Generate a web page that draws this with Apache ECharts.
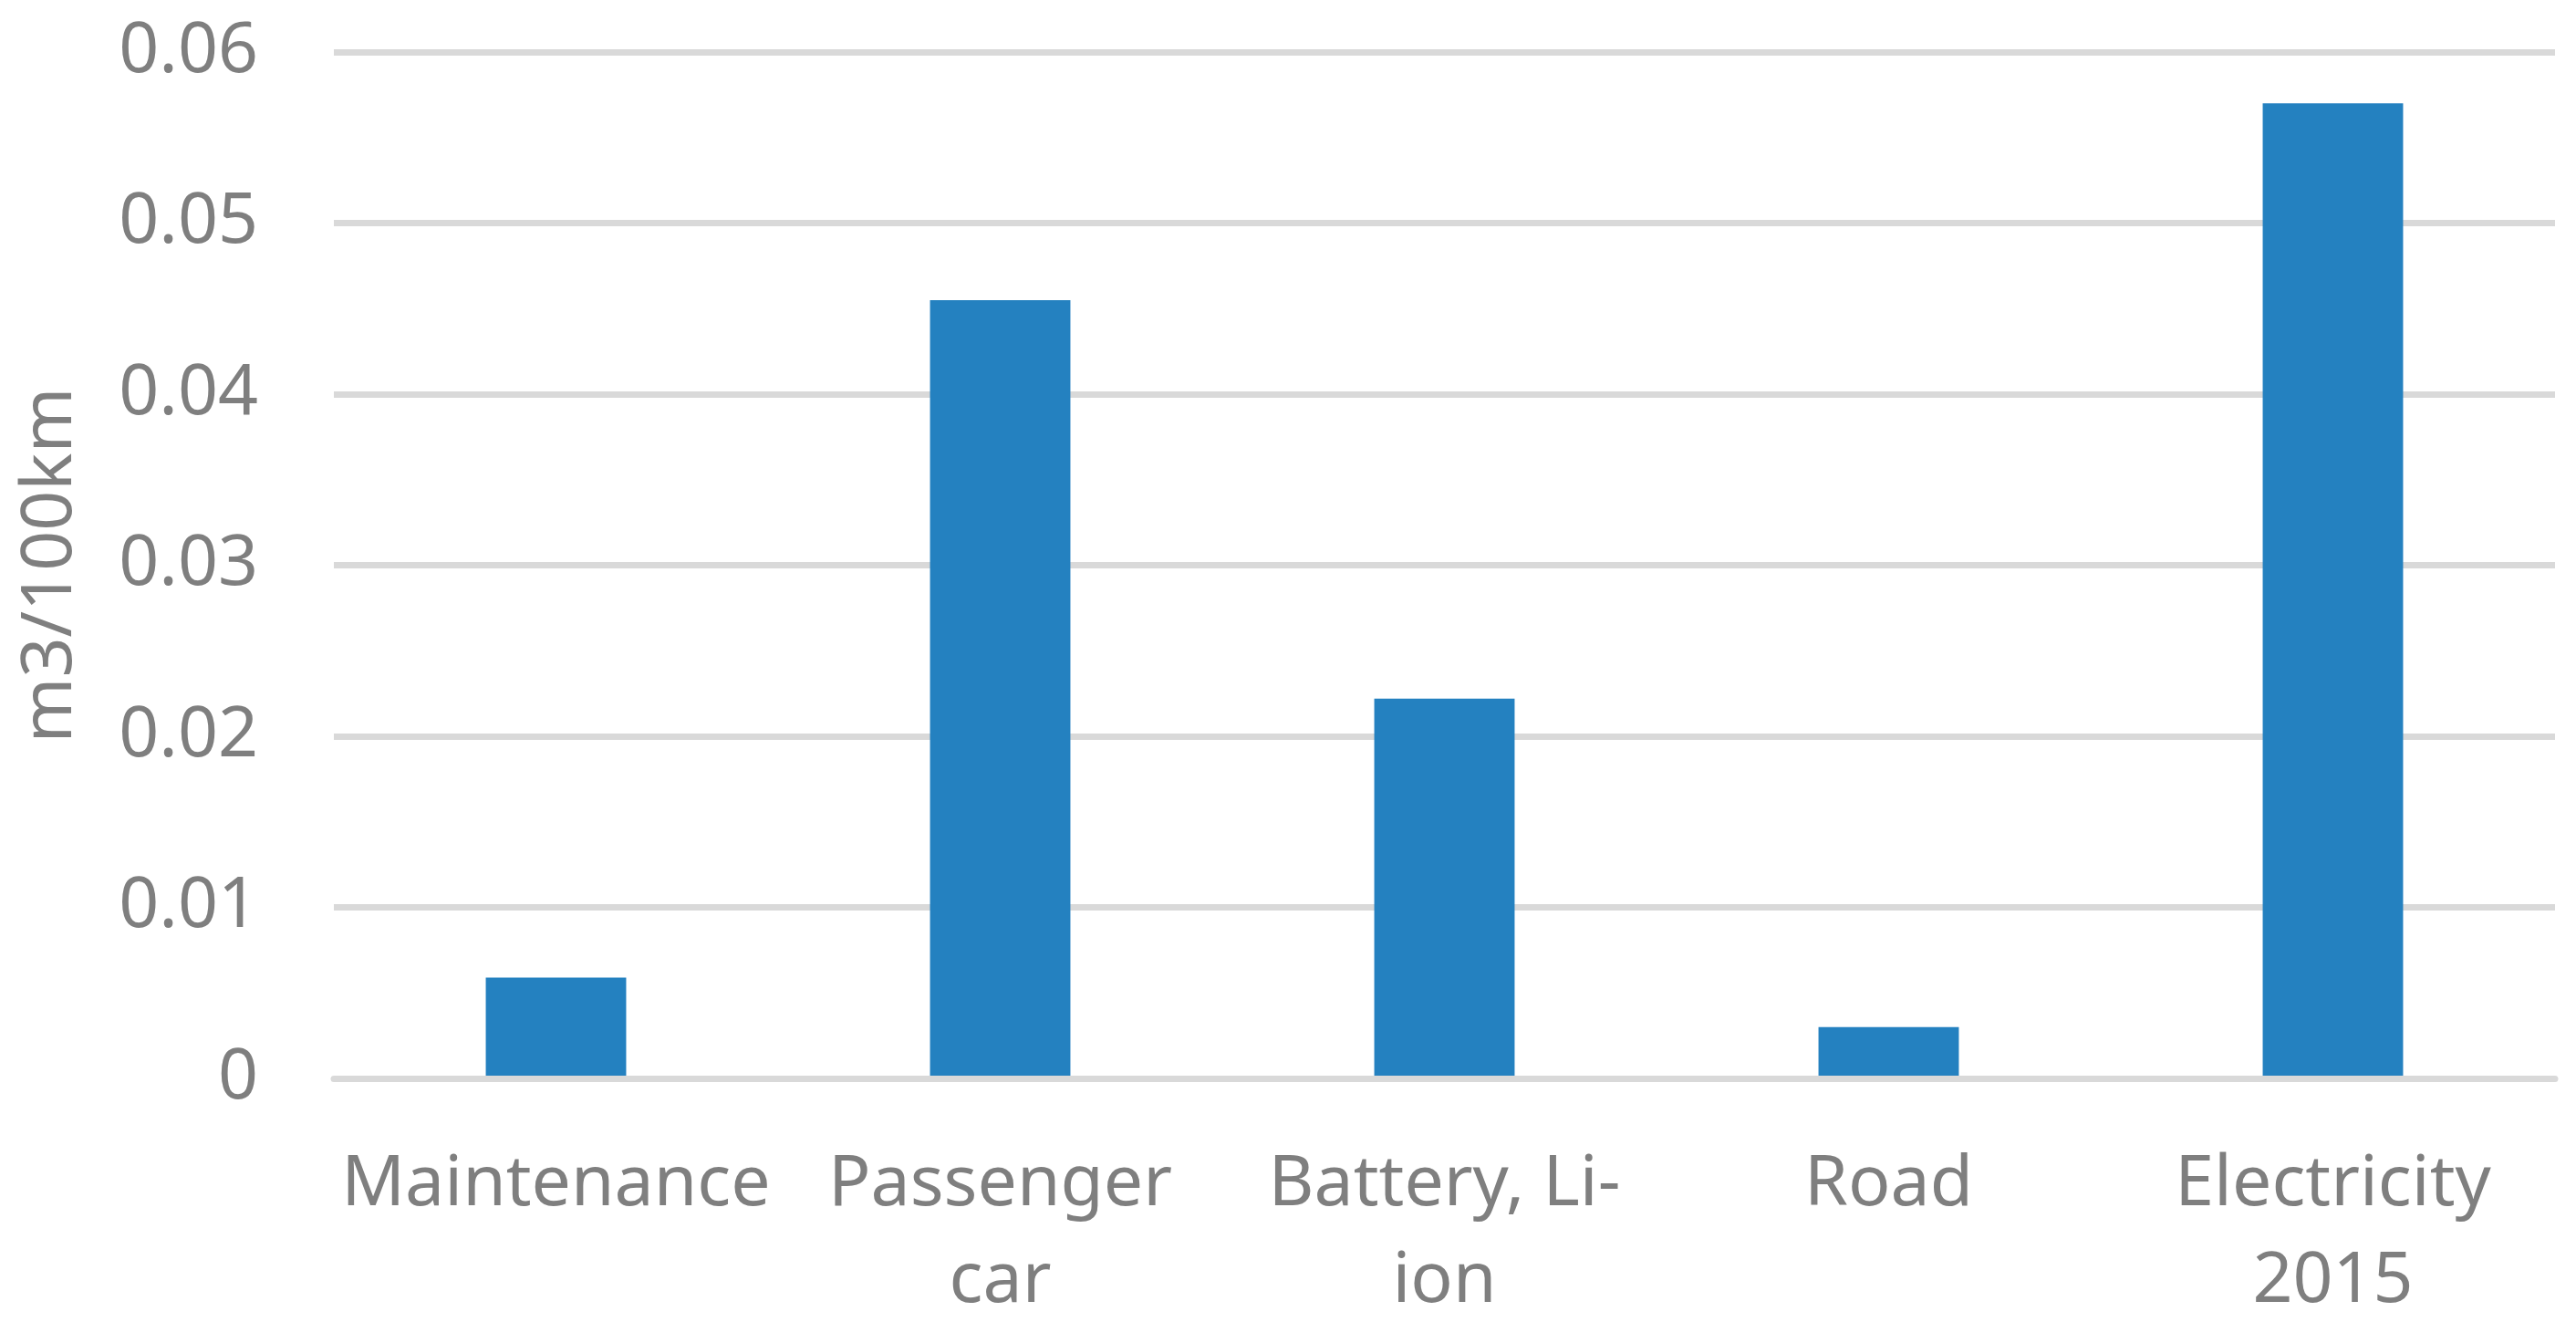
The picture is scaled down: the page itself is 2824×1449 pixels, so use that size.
<!DOCTYPE html>
<html>
<head>
<meta charset="utf-8">
<script src="https://cdn.jsdelivr.net/npm/echarts@6/dist/echarts.min.js"></script>
<style>
html, body { margin: 0; padding: 0; background: #fff; }
#chart { width: 2824px; height: 1449px; }
</style>
</head>
<body>
<div id="chart"></div>
<script>
    // data
    const categories = ['Maintenance', 'Passenger\ncar', 'Battery, Li-\nion', 'Road', 'Electricity\n2015'];
    const values = [0.0059, 0.0455, 0.0222, 0.003, 0.057];
    const yTicks = [0, 0.01, 0.02, 0.03, 0.04, 0.05, 0.06];

    const textColor = '#7f7f7f';
    const gridColor = '#d9d9d9';
    const font = '"Noto Sans", sans-serif';

    const chart = echarts.init(document.getElementById('chart'));
    const option = {
        animation: false,
        grid: {
            left: 366,
            right: 23,
            top: 57,
            bottom: 267,
            outerBoundsMode: 'none',
            containLabel: false
        },
        xAxis: {
            type: 'category',
            data: categories,
            z: 3,
            axisLine: { lineStyle: { color: gridColor, width: 7 } },
            axisTick: { show: false },
            axisLabel: {
                color: textColor,
                fontFamily: font,
                fontSize: 77,
                lineHeight: 106,
                margin: 64,
                interval: 0
            }
        },
        yAxis: {
            type: 'value',
            min: yTicks[0],
            max: yTicks[yTicks.length - 1],
            interval: 0.01,
            name: 'm3/100km',
            nameLocation: 'middle',
            nameGap: 271,
            nameTextStyle: {
                color: textColor,
                fontFamily: font,
                fontSize: 77
            },
            axisLine: { show: false },
            axisTick: { show: false },
            axisLabel: {
                color: textColor,
                fontFamily: font,
                fontSize: 77,
                margin: 83
            },
            splitLine: { lineStyle: { color: gridColor, width: 7 } }
        },
        series: [
            {
                type: 'bar',
                data: values,
                barWidth: '31.6%',
                itemStyle: { color: '#2481c0' }
            }
        ]
    };
    chart.setOption(option);
</script>
</body>
</html>
